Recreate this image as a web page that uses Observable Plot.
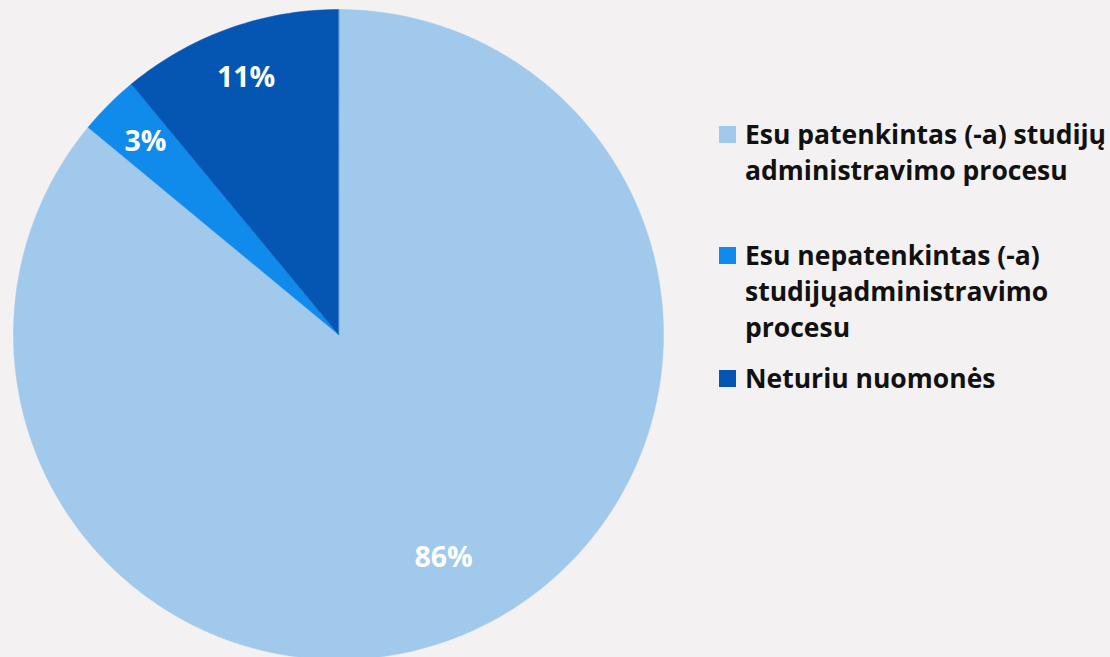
<!DOCTYPE html>
<html>
<head>
<meta charset="utf-8">
<script src="https://cdn.jsdelivr.net/npm/d3@7"></script>
<script src="https://cdn.jsdelivr.net/npm/@observablehq/plot@0.6"></script>
<style>
  html, body { margin: 0; padding: 0; background: #f3f1f2; }
  body { width: 1110px; height: 657px; position: relative; overflow: hidden; font-family: "Open Sans", "Noto Sans", sans-serif; }
  #chart { position: absolute; left: 0; top: 0; }
  .legend { position: absolute; left: 719px; top: 0; font-weight: 700; font-size: 26.5px; color: #111; line-height: 36px; }
  .item { position: absolute; left: 0; white-space: nowrap; }
  .sw { position: absolute; left: 0; top: 10px; width: 17px; height: 17px; }
  .txt { position: absolute; left: 26px; top: 0; }
</style>
</head>
<body>
<div id="chart"></div>
<div class="legend" id="legend"></div>
<script>
const categories = [
  "Esu patenkintas (-a) studijų administravimo procesu",
  "Esu nepatenkintas (-a) studijųadministravimo procesu",
  "Neturiu nuomonės"
];
const legendLines = [
  ["Esu patenkintas (-a) studijų", "administravimo procesu"],
  ["Esu nepatenkintas (-a)", "studijųadministravimo", "procesu"],
  ["Neturiu nuomonės"]
];
const values = [86, 3, 11];
const labels = ["86%", "3%", "11%"];
const colors = ["#a0c9ec", "#108aeb", "#0556b3"];

const data = categories.map((c, i) => ({category: c, value: values[i], label: labels[i]}));
const arcs = d3.pie().sort(null).value(d => d.value).startAngle(0).endAngle(2 * Math.PI)(data);

// polygon outline of each slice on the unit circle
const outline = [];
arcs.forEach(a => {
  const n = Math.max(4, Math.ceil((a.endAngle - a.startAngle) / (2 * Math.PI) * 360));
  outline.push({category: a.data.category, x: 0, y: 0});
  for (let k = 0; k <= n; k++) {
    const t = a.startAngle + (a.endAngle - a.startAngle) * k / n;
    outline.push({category: a.data.category, x: Math.sin(t), y: Math.cos(t)});
  }
});
const labelPts = arcs.map(a => {
  const m = (a.startAngle + a.endAngle) / 2;
  const r = a.data.value > 50 ? 0.76 : 0.84;
  return {label: a.data.label, x: r * Math.sin(m), y: r * Math.cos(m)};
});

const chart = Plot.plot({
  width: 1110,
  height: 657,
  style: {background: "transparent", overflow: "hidden"},
  x: {domain: [-1, 1], range: [13, 663], axis: null},
  y: {domain: [-1, 1], range: [659, 9], axis: null},
  color: {domain: categories, range: colors},
  marks: [
    Plot.line(outline, {x: "x", y: "y", z: "category", fill: "category", stroke: "category", strokeWidth: 0.5, curve: "linear-closed"}),
    Plot.text(labelPts, {x: "x", y: "y", text: "label", fill: "white", fontSize: 28.5, fontWeight: 700, fontFamily: "Open Sans"})
  ]
});
document.getElementById("chart").appendChild(chart);

const tops = [116, 237, 360];
const legend = document.getElementById("legend");
legendLines.forEach((lines, i) => {
  const item = document.createElement("div");
  item.className = "item";
  item.style.top = tops[i] + "px";
  const sw = document.createElement("div");
  sw.className = "sw";
  sw.style.background = colors[i];
  const txt = document.createElement("div");
  txt.className = "txt";
  txt.innerHTML = lines.join("<br>");
  item.appendChild(sw);
  item.appendChild(txt);
  legend.appendChild(item);
});
</script>
</body>
</html>
